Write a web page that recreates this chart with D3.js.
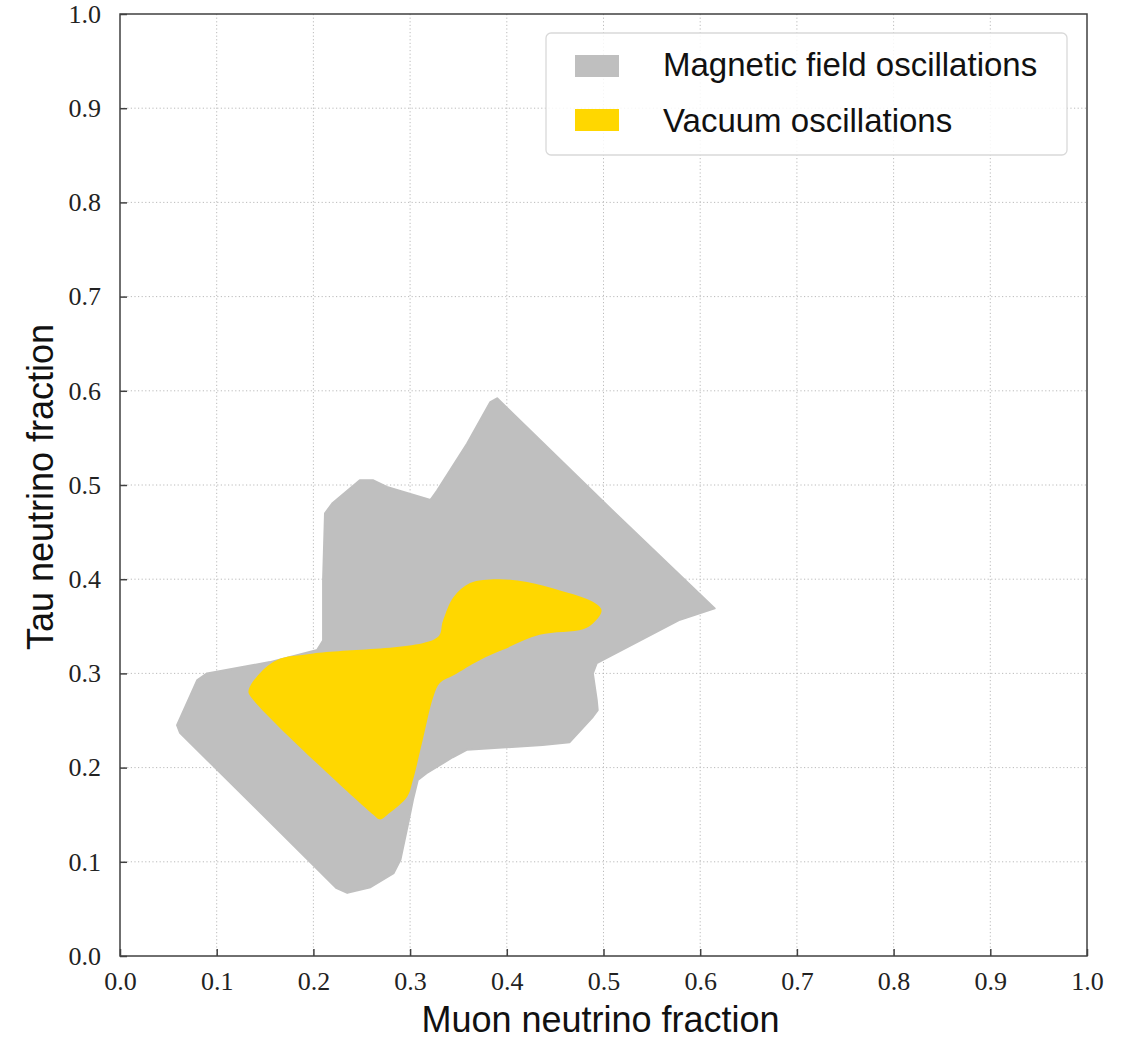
<!DOCTYPE html>
<meta charset="utf-8">
<script src="https://d3js.org/d3.v7.min.js"></script>
<style>
  body { margin: 0; background: #fff; }
</style>
<div id="my_dataviz"></div>
<script>
    // region outlines: [muon fraction, tau fraction]
    var magneticField = [
        [0.390, 0.592], [0.502, 0.480], [0.615, 0.369], [0.579, 0.357], [0.538, 0.335],
        [0.493, 0.311], [0.489, 0.300], [0.493, 0.272], [0.494, 0.261], [0.489, 0.254],
        [0.465, 0.227], [0.437, 0.224], [0.359, 0.219], [0.344, 0.211], [0.317, 0.194],
        [0.308, 0.187], [0.303, 0.166], [0.298, 0.141], [0.290, 0.102], [0.283, 0.088],
        [0.259, 0.073], [0.235, 0.067], [0.224, 0.072], [0.062, 0.237], [0.059, 0.245],
        [0.080, 0.293], [0.090, 0.300], [0.155, 0.312], [0.204, 0.325], [0.210, 0.335],
        [0.210, 0.399], [0.212, 0.470], [0.220, 0.481], [0.248, 0.505], [0.262, 0.505],
        [0.276, 0.498], [0.321, 0.484], [0.328, 0.494], [0.359, 0.544], [0.383, 0.588]
    ];
    var vacuum = [
        [0.133, 0.282], [0.141, 0.296], [0.162, 0.314], [0.200, 0.321], [0.328, 0.338],
        [0.334, 0.356], [0.345, 0.381], [0.362, 0.396], [0.390, 0.400], [0.421, 0.397],
        [0.455, 0.388], [0.489, 0.376], [0.498, 0.367], [0.489, 0.353], [0.479, 0.347],
        [0.434, 0.341], [0.396, 0.325], [0.372, 0.314], [0.345, 0.298], [0.331, 0.290],
        [0.324, 0.275], [0.313, 0.229], [0.303, 0.187], [0.297, 0.169], [0.279, 0.152],
        [0.269, 0.145], [0.262, 0.150], [0.134, 0.277]
    ];
    var tickValues = [0, 0.1, 0.2, 0.3, 0.4, 0.5, 0.6, 0.7, 0.8, 0.9, 1.0];
    var legendLabels = ["Magnetic field oscillations", "Vacuum oscillations"];
    var legendColors = ["#bfbfbf", "#ffd700"];

    var margin = { top: 14, right: 43, bottom: 85, left: 120 },
        width = 1130 - margin.left - margin.right,
        height = 1041 - margin.top - margin.bottom;

    var svg = d3.select("#my_dataviz")
        .append("svg")
        .attr("width", 1130)
        .attr("height", 1041)
        .append("g")
        .attr("transform", "translate(" + margin.left + "," + margin.top + ")");

    var x = d3.scaleLinear().domain([0, 1]).range([0, width]);
    var y = d3.scaleLinear().domain([0, 1]).range([height, 0]);

    // dotted grid
    var grid = svg.append("g");
    grid.selectAll(".gx").data(tickValues.slice(1, -1)).enter().append("line")
        .attr("x1", function (d) { return x(d); }).attr("x2", function (d) { return x(d); })
        .attr("y1", 0).attr("y2", height);
    grid.selectAll(".gy").data(tickValues.slice(1, -1)).enter().append("line")
        .attr("y1", function (d) { return y(d); }).attr("y2", function (d) { return y(d); })
        .attr("x1", 0).attr("x2", width);
    grid.selectAll("line")
        .attr("stroke", "#b3b3b3")
        .attr("stroke-width", 0.9)
        .attr("stroke-dasharray", "1.2,2.4");

    // filled regions
    var line = d3.line()
        .x(function (d) { return x(d[0]); })
        .y(function (d) { return y(d[1]); })
        .curve(d3.curveLinearClosed);

    svg.append("path")
        .attr("d", line(magneticField))
        .attr("fill", legendColors[0])
        .attr("stroke", legendColors[0])
        .attr("stroke-width", 2)
        .attr("stroke-linejoin", "round");

    svg.append("path")
        .attr("d", d3.line()
            .x(function (d) { return x(d[0]); })
            .y(function (d) { return y(d[1]); })
            .curve(d3.curveCatmullRomClosed.alpha(0.5))(vacuum))
        .attr("fill", legendColors[1]);

    // axes with inward ticks
    var xAxis = svg.append("g")
        .attr("transform", "translate(0," + height + ")")
        .call(d3.axisBottom(x).tickValues(tickValues).tickFormat(d3.format(".1f"))
            .tickSizeInner(-7).tickSizeOuter(0).tickPadding(16));
    var yAxis = svg.append("g")
        .call(d3.axisLeft(y).tickValues(tickValues).tickFormat(d3.format(".1f"))
            .tickSizeInner(-7).tickSizeOuter(0).tickPadding(19));

    [xAxis, yAxis].forEach(function (a) {
        a.select(".domain").remove();
        a.selectAll("line").attr("stroke", "#404040").attr("stroke-width", 1.5);
        a.selectAll("text")
            .style("font-family", "'Liberation Serif', 'DejaVu Serif', serif")
            .style("font-size", "26px")
            .attr("fill", "#222");
    });

    // frame
    svg.append("rect")
        .attr("width", width).attr("height", height)
        .attr("fill", "none")
        .attr("stroke", "#404040")
        .attr("stroke-width", 1.5);

    // axis labels
    svg.append("text")
        .attr("x", width / 2 - 3)
        .attr("y", height + 76)
        .attr("text-anchor", "middle")
        .style("font-family", "'Liberation Sans', sans-serif")
        .style("font-size", "36px")
        .attr("fill", "#111")
        .text("Muon neutrino fraction");

    svg.append("text")
        .attr("transform", "rotate(-90)")
        .attr("x", -height / 2 - 2)
        .attr("y", -67)
        .attr("text-anchor", "middle")
        .style("font-family", "'Liberation Sans', sans-serif")
        .style("font-size", "36px")
        .attr("fill", "#111")
        .text("Tau neutrino fraction");

    // legend
    var legend = svg.append("g").attr("transform", "translate(" + (546 - margin.left) + "," + (33 - margin.top) + ")");
    legend.append("rect")
        .attr("width", 521).attr("height", 122)
        .attr("rx", 5)
        .attr("fill", "#fff")
        .attr("fill-opacity", 0.85)
        .attr("stroke", "#d9d9d9")
        .attr("stroke-width", 1.3);
    legend.selectAll(".patch").data(legendLabels).enter().append("rect")
        .attr("x", 29)
        .attr("y", function (d, i) { return 22 + i * 54; })
        .attr("width", 44).attr("height", 22)
        .attr("fill", function (d, i) { return legendColors[i]; });
    legend.selectAll(".lab").data(legendLabels).enter().append("text")
        .attr("x", 117)
        .attr("y", function (d, i) { return 43 + i * 56; })
        .style("font-family", "'Liberation Sans', sans-serif")
        .style("font-size", "33px")
        .attr("fill", "#111")
        .text(function (d) { return d; });
</script>
